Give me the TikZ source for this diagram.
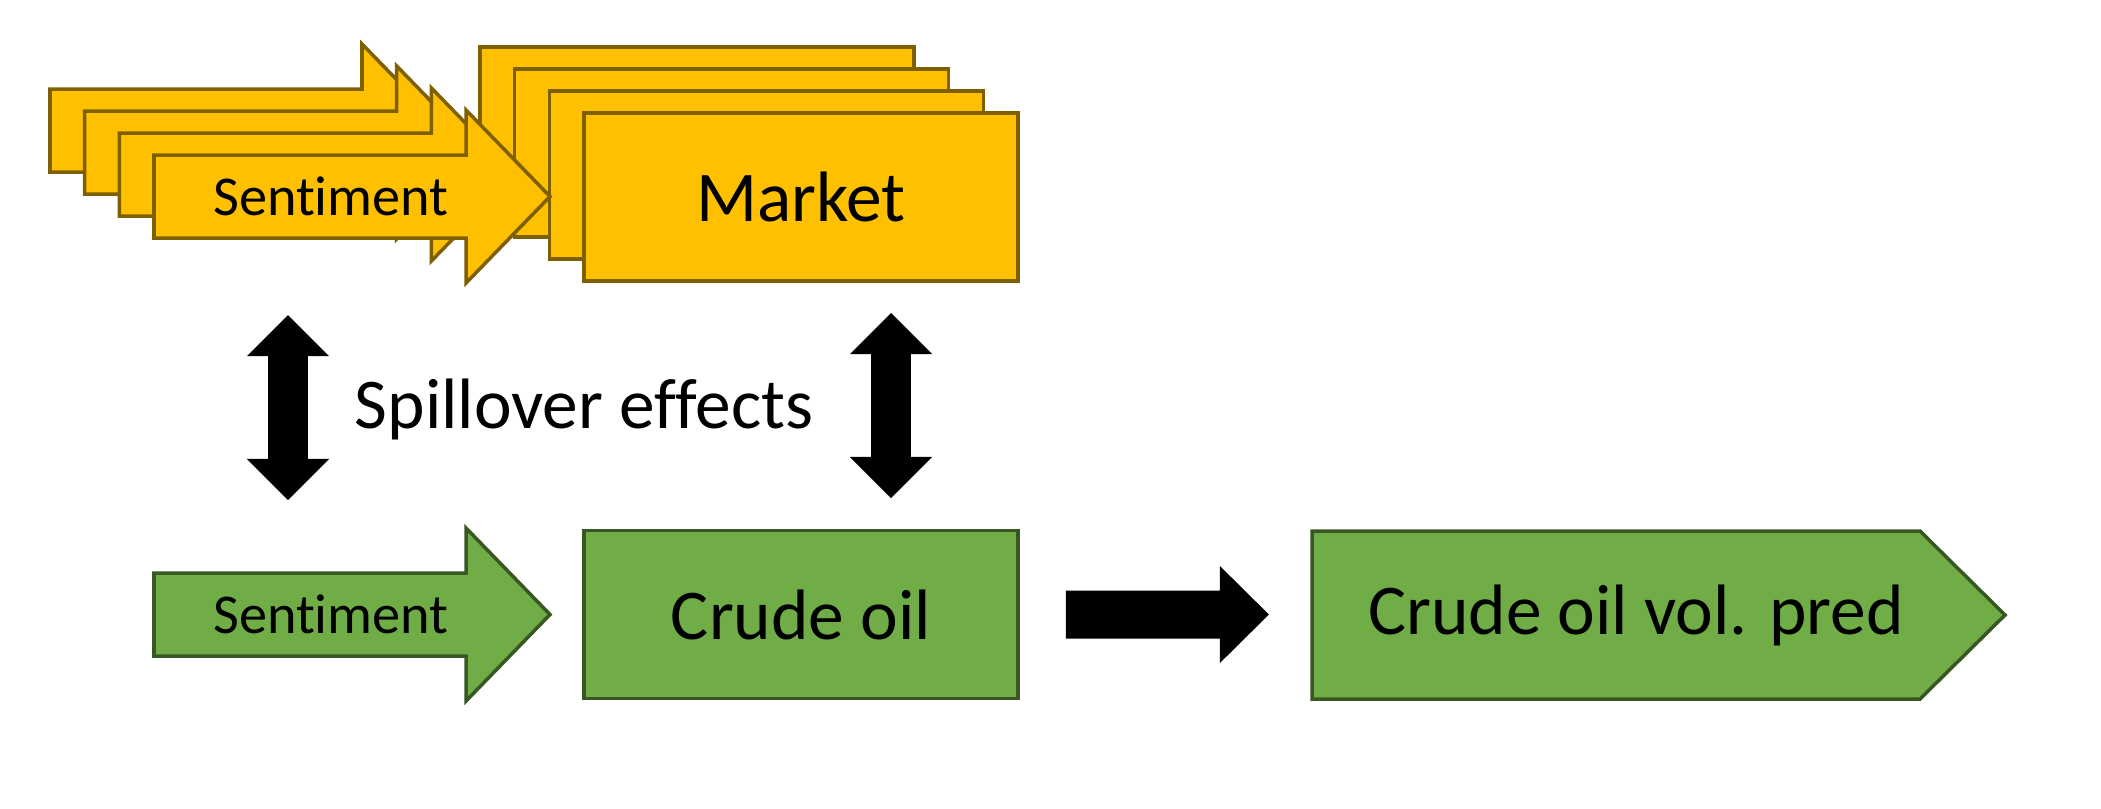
\documentclass[tikz,border=0pt]{standalone}
\usepackage{fontspec}
\setmainfont{Carlito}[Ligatures={NoCommon}]
\usetikzlibrary{arrows.meta,positioning,calc}

\definecolor{mktfill}{HTML}{FFC000}
\definecolor{mktline}{HTML}{7F6000}
\definecolor{oilfill}{HTML}{70AD47}
\definecolor{oilline}{HTML}{385723}

\begin{document}
\begin{tikzpicture}[
  x=0.01cm, y=-0.01cm,
  mkt/.style={draw=mktline, fill=mktfill, line width=1pt},
  oil/.style={draw=oilline, fill=oilfill, line width=1pt},
  box/.style={rectangle, minimum width=4.34cm, minimum height=1.68cm, inner sep=0pt, font=\fontsize{20.3}{24}\selectfont},
  small/.style={font=\fontsize{16}{19}\selectfont, inner sep=0pt},
  big/.style={font=\fontsize{20.3}{24}\selectfont, inner sep=0pt},
  twoway/.style={line width=0.40cm, {Triangle[width=0.82cm, length=0.41cm, line width=0pt]}-{Triangle[width=0.82cm, length=0.41cm, line width=0pt]}},
]
\useasboundingbox (0,0) rectangle (2101,808);

% stacked copies behind the front pair
\foreach \i in {0,1,2}{
  \draw[mkt] (50+34.7*\i, 89+22*\i) -- ++(312,0) -- ++(0,-45) -- ++(84,86.5) -- ++(-84,86.5) -- ++(0,-45) -- ++(-312,0) -- cycle;
  \draw[mkt] (480+34.7*\i, 47+22*\i) rectangle ++(434,168);
}

% front pair
\draw[mkt] (154,155) -- ++(312,0) -- ++(0,-45) -- ++(84,86.5) -- ++(-84,86.5) -- ++(0,-45) -- ++(-312,0) -- cycle;
\node[small, anchor=base] (sentup) at (331,215) {Sentiment};
\node[mkt, box] (market) at (801,197) {Market};

% lower row
\draw[oil] (154,573) -- ++(312,0) -- ++(0,-45) -- ++(84,86.5) -- ++(-84,86.5) -- ++(0,-45) -- ++(-312,0) -- cycle;
\node[small, anchor=base] (sentdown) at (331,633) {Sentiment};
\node[oil, box] (oil) at (801,614.5) {Crude oil};

\draw[oil] (1312,531) -- (1920,531) -- (2005,615) -- (1920,699) -- (1312,699) -- cycle;
\coordinate (predtail) at (1312,615);
\node[big] (pred) at (1636,615) {Crude oil vol. pred};

% oil -> prediction
\fill ($(oil.east)+(46,-24)$) -- ++(154,0) -- ++(0,-24.5) -- ++(49,48.5) -- ++(-49,48.5) -- ++(0,-24.5) -- ++(-154,0) -- cycle;

% spillover links
\coordinate (linkLtop) at (288,315);
\coordinate (linkLbot) at (288,500);
\coordinate (linkRtop) at (891,313);
\coordinate (linkRbot) at (891,498);
\draw[twoway] (linkLtop) -- (linkLbot);
\draw[twoway] (linkRtop) -- (linkRbot);
\node[big, anchor=base] (spill) at (584,428) {Spillover effects};

\end{tikzpicture}
\end{document}
